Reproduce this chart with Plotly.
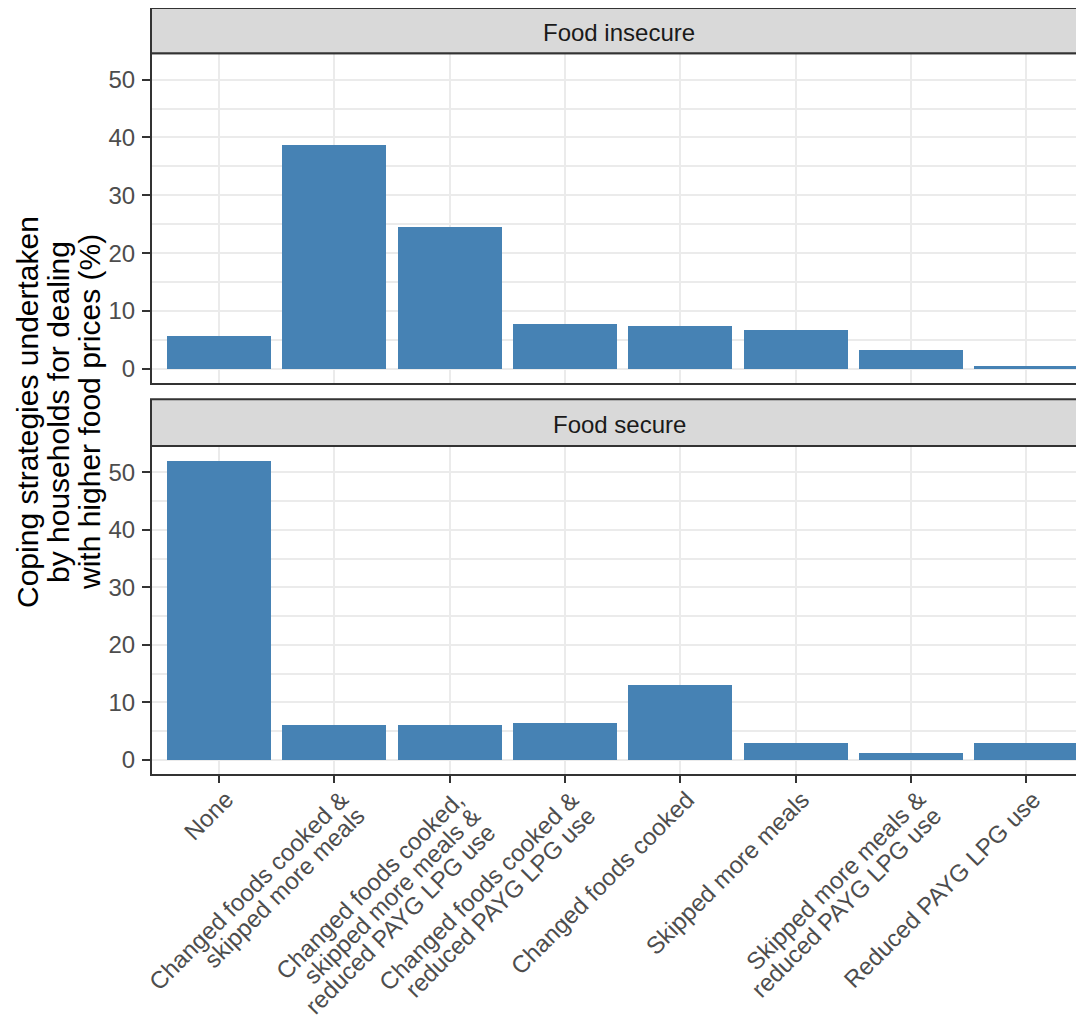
import math
import plotly.graph_objects as go

# ---- data ----
categories = [
    "None",
    "Changed foods cooked &\nskipped more meals",
    "Changed foods cooked,\nskipped more meals &\nreduced PAYG LPG use",
    "Changed foods cooked &\nreduced PAYG LPG use",
    "Changed foods cooked",
    "Skipped more meals",
    "Skipped more meals &\nreduced PAYG LPG use",
    "Reduced PAYG LPG use",
]
panels = ["Food insecure", "Food secure"]
food_insecure = [5.6, 38.7, 24.4, 7.7, 7.4, 6.7, 3.2, 0.4]
food_secure = [51.9, 6.1, 6.1, 6.4, 13.0, 3.0, 1.2, 3.0]
y_title_lines = ["Coping strategies undertaken",
                 "by households for dealing",
                 "with higher food prices (%)"]
y_ticks = [0, 10, 20, 30, 40, 50]

# ---- layout geometry (pixels, in window coordinates) ----
OFF = 8                      # browser default body margin
W, H = 1084 - OFF, 1020 - OFF
L, T = 151 - OFF, 0
BOTTOM = 775 - OFF
B = H - BOTTOM
plot_h = H - T - B
def frac(py):
    return (BOTTOM - (py - OFF)) / plot_h

strip1 = (8.0, 53.3)
panel1 = (53.3, 384.0)
strip2 = (399.3, 446.0)
panel2 = (446.0, 775.0)

FONT = "Liberation Sans, Arial, sans-serif"
BAR = "#4682B4"
GRID = "#EBEBEB"
BORDER = "#333333"
TICKTXT = "#4D4D4D"

fig = go.Figure()
xcats = list(range(len(categories)))
fig.add_trace(go.Bar(x=xcats, y=food_insecure, width=0.9, marker=dict(color=BAR, line=dict(width=0)),
                     xaxis="x", yaxis="y", showlegend=False))
fig.add_trace(go.Bar(x=xcats, y=food_secure, width=0.9, marker=dict(color=BAR, line=dict(width=0)),
                     xaxis="x2", yaxis="y2", showlegend=False))

xr = [-0.59, 7.5]
yr = [-2.6, 54.55]
xcommon = dict(range=xr, tickvals=xcats, showticklabels=False, showgrid=True, gridcolor=GRID,
               gridwidth=2, zeroline=False, showline=False, fixedrange=True)
ycommon = dict(range=yr, tickvals=y_ticks, showgrid=True, gridcolor=GRID, gridwidth=2,
               zeroline=False, showline=False, ticks="outside", ticklen=8, tickwidth=2,
               tickcolor=BORDER, tickfont=dict(family=FONT, size=24, color=TICKTXT),
               minor=dict(dtick=5, tick0=0, showgrid=True, gridcolor=GRID, gridwidth=1.5, ticks=""),
               automargin=False, ticklabelstandoff=2)

fig.update_layout(
    width=W, height=H,
    margin=dict(l=L, r=0, t=T, b=B, pad=0),
    plot_bgcolor="white", paper_bgcolor="white",
    bargap=0,
    xaxis=dict(domain=[0, 1], anchor="y", ticks="", **xcommon),
    yaxis=dict(domain=[frac(panel1[1]), frac(panel1[0])], anchor="x", **ycommon),
    xaxis2=dict(domain=[0, 1], anchor="y2", ticks="outside", ticklen=7, tickwidth=2, tickcolor=BORDER, **xcommon),
    yaxis2=dict(domain=[frac(panel2[1]), frac(panel2[0])], anchor="x2", **ycommon),
)

shapes = []
annotations = []
# panel borders (right edge pushed off-canvas, as in the cropped reference)
for (p0, p1) in (panel1, panel2):
    shapes.append(dict(type="rect", xref="paper", yref="paper", x0=0, x1=1.02,
                       y0=frac(p1), y1=frac(p0), line=dict(color=BORDER, width=2),
                       fillcolor="rgba(0,0,0,0)", layer="above"))
# strips
for (s0, s1), name in zip((strip1, strip2), panels):
    shapes.append(dict(type="rect", xref="paper", yref="paper", x0=0, x1=1.02,
                       y0=frac(s1), y1=min(frac(s0), 1.0), line=dict(color=BORDER, width=2),
                       fillcolor="#D9D9D9", layer="above"))
    annotations.append(dict(text=name, xref="paper", yref="paper", x=0, xshift=619 - 151,
                            y=(frac(s0) + frac(s1)) / 2, xanchor="center", yanchor="middle",
                            showarrow=False, yshift=-2,
                            font=dict(family=FONT, size=24, color="#1A1A1A")))

# y-axis title (three centred lines)
title_x = [27, 58, 89]
for line, px in zip(y_title_lines, title_x):
    annotations.append(dict(text=line, xref="paper", yref="paper", x=0, xshift=px - 151,
                            y=frac(412), xanchor="center", yanchor="middle", textangle=-90,
                            showarrow=False, font=dict(family=FONT, size=30, color="black")))

# x tick labels: rotated 45 degrees, right-aligned lines
LS = 23 / math.sqrt(2)
for xi, cat in zip(xcats, categories):
    for i, line in enumerate(cat.split("\n")):
        annotations.append(dict(text=line, xref="x2", yref="paper", x=xi, y=0,
                                xanchor="right", yanchor="top", textangle=-45,
                                xshift=22 + i * LS, yshift=-8 - i * LS,
                                showarrow=False,
                                font=dict(family=FONT, size=24, color=TICKTXT)))

fig.update_layout(shapes=shapes, annotations=annotations)
fig.write_html("out.html")
